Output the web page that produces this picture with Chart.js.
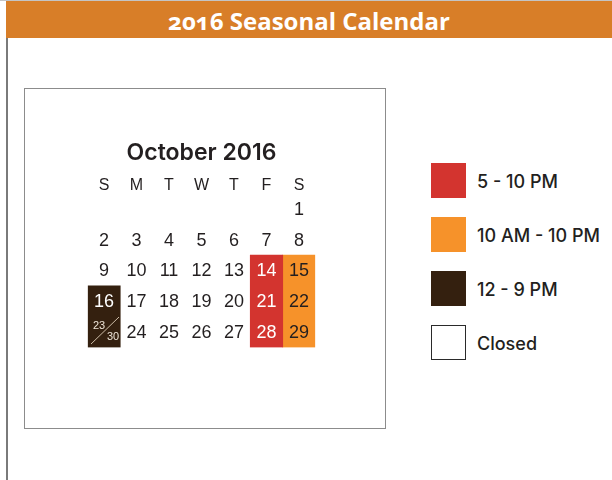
<!DOCTYPE html>
<html>
<head>
<meta charset="utf-8">
<script src="https://cdn.jsdelivr.net/npm/chart.js@4.4.1/dist/chart.umd.min.js"></script>
<style>
  body { margin: 0; width: 612px; height: 480px; position: relative; overflow: hidden; background: #fff; }
  #topline { position: absolute; left: 0; top: 0; width: 612px; height: 1px; background: #c4c4c4; }
  #header {
    position: absolute; left: 6px; top: 1px; width: 606px; height: 37px;
    background: #D87E28; color: #fff; text-align: center;
    font: 700 24px "Open Sans", sans-serif; line-height: 40px; font-feature-settings: "onum";
  }
  #leftline { position: absolute; left: 6px; top: 38px; width: 2px; height: 442px; background: #7a7a7a; }
  #box { position: absolute; left: 24px; top: 88px; width: 360px; height: 339px; border: 1px solid #8c8c8c; }
  #legend { position: absolute; left: 431px; top: 163px; }
  .item { position: relative; height: 35px; margin-bottom: 19px; }
  .swatch { position: absolute; left: 0; top: 0; width: 35px; height: 35px; box-sizing: border-box; }
  .label {
    position: absolute; left: 46px; top: 0; white-space: nowrap;
    font: 500 18px Inter, sans-serif; line-height: 38px; color: #231F20;
  }
</style>
</head>
<body>
<div id="topline"></div>
<div id="header">2016 Seasonal Calendar</div>
<div id="leftline"></div>
<div id="box"><canvas id="cal" width="360" height="339"></canvas></div>
<div id="legend"></div>
<script>
// Calendar grid: weekday headers and the dates of each week row
const weekdays = ['S', 'M', 'T', 'W', 'T', 'F', 'S'];
const weeks = [
  ['', '', '', '', '', '', '1'],
  ['2', '3', '4', '5', '6', '7', '8'],
  ['9', '10', '11', '12', '13', '14', '15'],
  ['16', '17', '18', '19', '20', '21', '22'],
  ['23/30', '24', '25', '26', '27', '28', '29'],
];

// Opening hours; per weekday, the first and last week row they apply to
const hours = ['5 - 10 PM', '10 AM - 10 PM', '12 - 9 PM', 'Closed'];
const hourColors = ['#D3342F', '#F6922A', '#34200F', '#FFFFFF'];
const hourTextColors = ['#FFFFFF', '#231F20', '#FFFFFF', '#231F20'];
const eveningRows = [null, null, null, null, null, [2, 4], null];
const allDayRows = [null, null, null, null, null, null, [2, 4]];
const noonRows = [[3, 4], null, null, null, null, null, null];
const closedRows = [null, null, null, null, null, null, null];

const rowSets = [eveningRows, allDayRows, noonRows, closedRows];
const FONT = '"Liberation Sans", Arial, sans-serif';

function toCells(rows) {
  return rows.map((r) => (r ? [r[0] - 0.5, r[1] + 0.5] : null));
}

const datesPlugin = {
  id: 'dates',
  afterDatasetsDraw(chart) {
    const { ctx, scales: { x, y } } = chart;
    ctx.save();
    ctx.textAlign = 'center';
    ctx.textBaseline = 'middle';
    weeks.forEach((week, row) => {
      week.forEach((label, col) => {
        if (!label) return;
        let color = '#231F20';
        rowSets.forEach((rows, i) => {
          const r = rows[col];
          if (r && row >= r[0] && row <= r[1]) color = hourTextColors[i];
        });
        const px = x.getPixelForValue(col);
        const py = y.getPixelForValue(row);
        if (label.includes('/')) {
          const [a, b] = label.split('/');
          ctx.strokeStyle = '#CBBBA5';
          ctx.lineWidth = 1;
          ctx.beginPath();
          ctx.moveTo(px - 13, py + 12);
          ctx.lineTo(px + 15, py - 15);
          ctx.stroke();
          ctx.fillStyle = '#EDE3D6';
          ctx.font = '11px ' + FONT;
          ctx.fillText(a, px - 5, py - 6);
          ctx.fillText(b, px + 9, py + 4.5);
        } else {
          ctx.fillStyle = color;
          ctx.font = '18px ' + FONT;
          ctx.fillText(label, px, py + 1);
        }
      });
    });
    ctx.restore();
  },
};

const chart = new Chart(document.getElementById('cal').getContext('2d'), {
  type: 'bar',
  data: {
    labels: weekdays,
    datasets: hours.map((h, i) => ({
      label: h,
      data: toCells(rowSets[i]),
      backgroundColor: hourColors[i],
      borderColor: i === 3 ? '#2a2a2a' : hourColors[i],
      borderWidth: i === 3 ? 1 : 0,
      borderSkipped: false,
      grouped: false,
      barPercentage: 1,
      categoryPercentage: 1,
    })),
  },
  options: {
    responsive: false,
    animation: false,
    events: [],
    layout: { padding: { left: 62.75, right: 69.75, top: 50.2, bottom: 80.6 } },
    plugins: {
      legend: { display: false },
      tooltip: { enabled: false },
      title: {
        display: true,
        text: 'October 2016',
        color: '#231F20',
        font: { family: 'Inter, sans-serif', size: 23, weight: '600' },
        padding: { top: 0, bottom: 10.6 },
      },
    },
    scales: {
      x: {
        position: 'top',
        grid: { display: false, drawTicks: false },
        border: { display: false },
        ticks: { color: '#231F20', font: { family: FONT, size: 16 }, padding: -1.5 },
      },
      y: {
        display: false,
        min: -0.5,
        max: 4.5,
        reverse: true,
      },
    },
  },
  plugins: [datesPlugin],
});

// HTML legend built from the chart's own legend items
const legendEl = document.getElementById('legend');
Chart.defaults.plugins.legend.labels.generateLabels(chart).forEach((item) => {
  const row = document.createElement('div');
  row.className = 'item';
  const sw = document.createElement('div');
  sw.className = 'swatch';
  sw.style.background = item.fillStyle;
  if (item.lineWidth) sw.style.border = item.lineWidth + 'px solid ' + item.strokeStyle;
  const tx = document.createElement('div');
  tx.className = 'label';
  tx.textContent = item.text;
  row.appendChild(sw);
  row.appendChild(tx);
  legendEl.appendChild(row);
});
</script>
</body>
</html>
